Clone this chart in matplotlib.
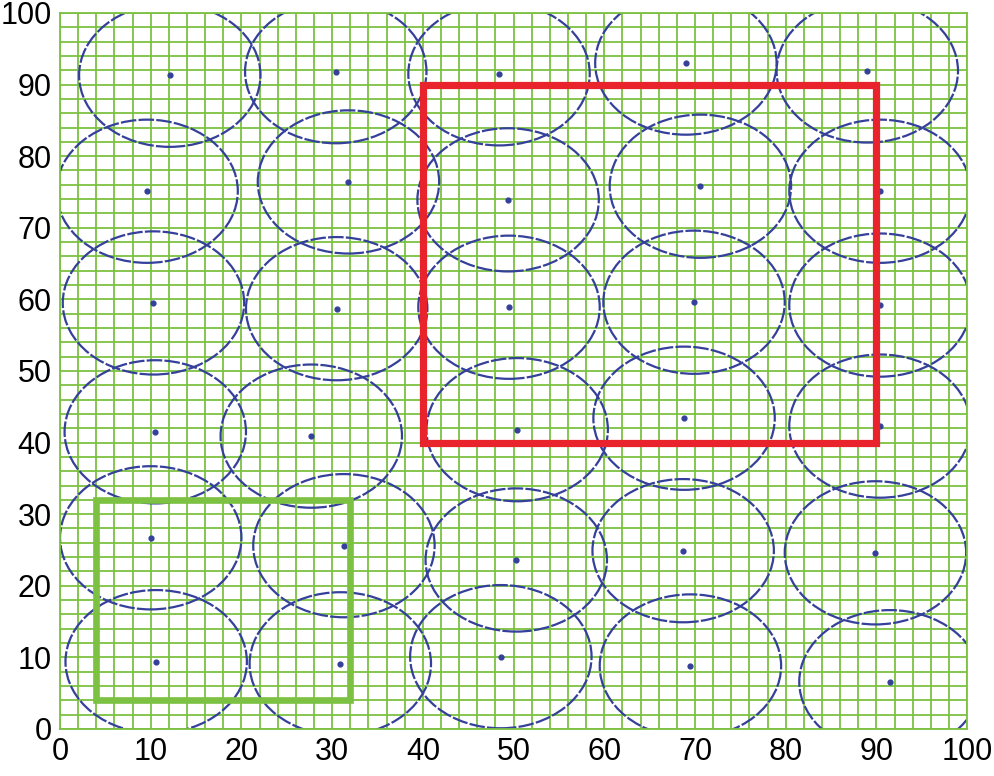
import matplotlib.pyplot as plt
from matplotlib.patches import Circle, Rectangle
import numpy as np

# sensor node positions (x, y)
node_x = [12.1, 30.4, 48.4, 69.0, 89.0,
          9.6, 31.8, 49.4, 70.6, 90.4,
          10.3, 30.5, 49.5, 69.9, 90.4,
          10.5, 27.7, 50.4, 68.8, 90.4,
          10.0, 31.3, 50.3, 68.7, 89.9,
          10.6, 30.9, 48.6, 69.5, 91.5]
node_y = [91.3, 91.8, 91.5, 93.0, 91.9,
          75.1, 76.4, 73.9, 75.8, 75.1,
          59.5, 58.7, 58.9, 59.6, 59.2,
          41.5, 40.9, 41.8, 43.4, 42.3,
          26.7, 25.6, 23.6, 24.9, 24.6,
          9.4, 9.1, 10.1, 8.8, 6.6]
sensing_radius = 10

# regions of interest: (x0, y0, x1, y1)
red_region = (40, 40, 90, 90)
green_region = (4, 4, 32, 32)

ticks = list(range(0, 101, 10))

plt.rcParams["font.family"] = ["Liberation Sans", "DejaVu Sans"]

fig = plt.figure(figsize=(9.94, 7.76), dpi=100)
ax = fig.add_axes([0.0604, 0.0606, 0.9125, 0.9227])

green = "#7cc142"
blue = "#34409a"

for v in np.arange(0, 101, 2):
    ax.axvline(v, color=green, linewidth=1.3, zorder=1)
    ax.axhline(v, color=green, linewidth=1.3, zorder=1)

for x, y in zip(node_x, node_y):
    ax.add_patch(Circle((x, y), sensing_radius, fill=False, edgecolor=blue,
                        linewidth=1.6, linestyle=(0, (7, 1)), zorder=2))
ax.scatter(node_x, node_y, s=12, color=blue, zorder=3)

for (x0, y0, x1, y1), color, lw in [(red_region, "#e8232b", 5.2),
                                    (green_region, green, 4.8)]:
    ax.add_patch(Rectangle((x0, y0), x1 - x0, y1 - y0, fill=False,
                           edgecolor=color, linewidth=lw, zorder=4))

ax.set_xlim(0, 100)
ax.set_ylim(0, 100)
ax.set_xticks(ticks)
ax.set_yticks(ticks)
ax.tick_params(length=0, labelsize=22, pad=6)
for spine in ax.spines.values():
    spine.set_color(green)
    spine.set_linewidth(1.3)

fig.savefig("out.png", dpi=100)
